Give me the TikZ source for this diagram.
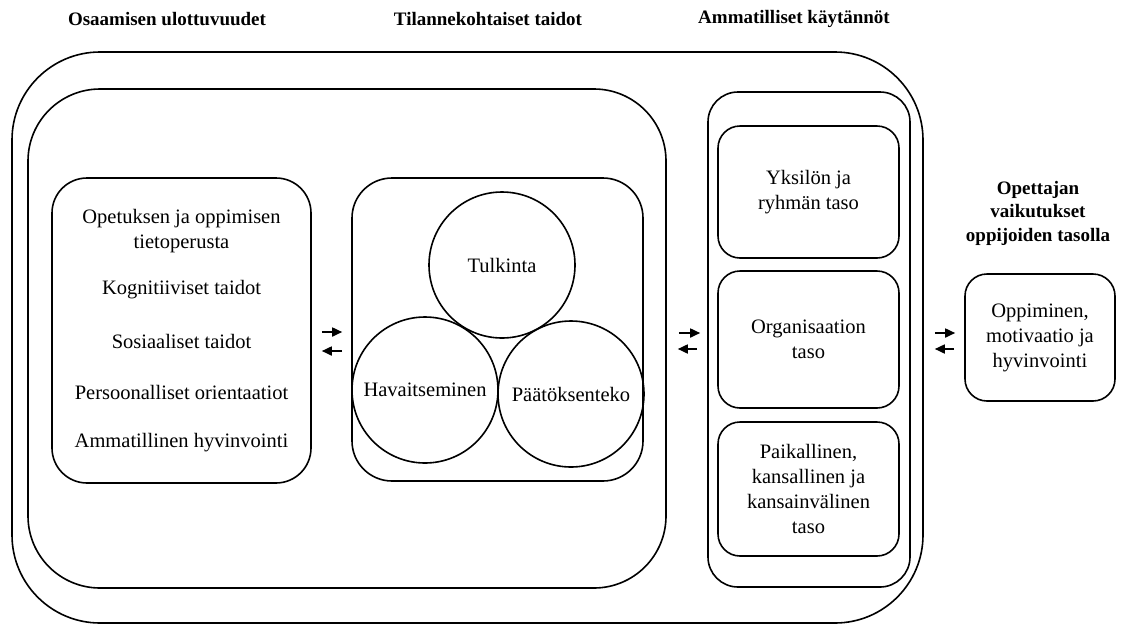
\documentclass[tikz,border=0pt]{standalone}
\usepackage{fontspec}
\setmainfont{Liberation Serif}
\usetikzlibrary{calc,arrows.meta}
\begin{document}
\begin{tikzpicture}[x=1pt,y=-1pt,
  box/.style={draw, line width=1.6pt, inner sep=0pt, align=center, font=\fontsize{20.5}{25}\selectfont},
  circ/.style={draw, circle, line width=1.6pt, minimum size=146pt, inner sep=0pt, font=\fontsize{20.5}{25}\selectfont},
  txt/.style={align=center, inner sep=0pt, font=\fontsize{20.5}{25}\selectfont},
  head/.style={align=center, inner sep=0pt, font=\fontsize{19}{23.5}\selectfont\bfseries},
  arr/.style={line width=1.7pt, -{Triangle[length=10pt,width=9pt]}}]
\useasboundingbox (0,0) rectangle (1122,625);
% headings
\node[head] (h1) at (167,19) {Osaamisen ulottuvuudet};
\node[head] (h2) at (488,19) {Tilannekohtaiset taidot};
\node[head] (h3) at (794,19) {Ammatilliset käytännöt};
\node[head] (h4) at (1038,213) {Opettajan\\vaikutukset\\oppijoiden tasolla};
% containers
\node[box, rounded corners=88pt, minimum width=911pt, minimum height=571pt] (outer) at (467.5,337.5) {};
\node[box, rounded corners=72pt, minimum width=638pt, minimum height=499pt] (sb) at (347,338.5) {};
\node[box, rounded corners=35pt, minimum width=259pt, minimum height=305pt] (lb) at (181.5,330.5) {};
\node[box, rounded corners=40pt, minimum width=291pt, minimum height=303pt] (mb) at (497.5,329.5) {};
\node[box, rounded corners=30pt, minimum width=202pt, minimum height=495pt] (rc) at (809,339.5) {};
\node[box, rounded corners=22pt, minimum width=181pt, minimum height=132pt] (r1) at (808.5,192) {Yksilön ja\\ryhmän taso};
\node[box, rounded corners=22pt, minimum width=181pt, minimum height=137pt] (r2) at (808.5,339.5) {Organisaation\\taso};
\node[box, rounded corners=22pt, minimum width=181pt, minimum height=134pt] (r3) at (808.5,489) {Paikallinen,\\kansallinen ja\\kansainvälinen\\taso};
\node[box, rounded corners=22pt, minimum width=150pt, minimum height=127pt] (ob) at (1040,337.5) {Oppiminen,\\motivaatio ja\\hyvinvointi};
% left box texts
\node[txt] (t1) at (181.5,231) {Opetuksen ja oppimisen\\tietoperusta};
\node[txt] (t2) at (181.5,290) {Kognitiiviset taidot};
\node[txt] (t3) at (181.5,341) {Sosiaaliset taidot};
\node[txt] (t4) at (181.5,392) {Persoonalliset orientaatiot};
\node[txt] (t5) at (181.5,443) {Ammatillinen hyvinvointi};
% circles
\node[circ] (tu) at (502,265) {Tulkinta};
\node[circ] (ha) at (425,390) {Havaitseminen};
\node[circ] (pa) at (571,394) {Päätöksenteko};
% arrows
\coordinate (a1) at ($(lb.east)+(0,1.5)$);
\coordinate (a2) at ($(lb.east)+(0,20.5)$);
\draw[arr, shorten <=10pt, shorten >=9pt] (a1) -- (a1 -| mb.west);
\draw[arr, shorten <=9pt, shorten >=10pt] (a2 -| mb.west) -- (a2);
\coordinate (a3) at ($(sb.east)+(0,-5.5)$);
\coordinate (a4) at ($(sb.east)+(0,10.5)$);
\draw[arr, shorten <=12pt, shorten >=7pt] (a3) -- (a3 -| rc.west);
\draw[arr, shorten <=10pt, shorten >=11pt] (a4 -| rc.west) -- (a4);
\coordinate (a5) at ($(rc.east)+(0,-6.5)$);
\coordinate (a6) at ($(rc.east)+(0,9.5)$);
\draw[arr, shorten <=24pt, shorten >=9pt] (a5) -- (a5 -| ob.west);
\draw[arr, shorten <=10pt, shorten >=24pt] (a6 -| ob.west) -- (a6);
\end{tikzpicture}
\end{document}
